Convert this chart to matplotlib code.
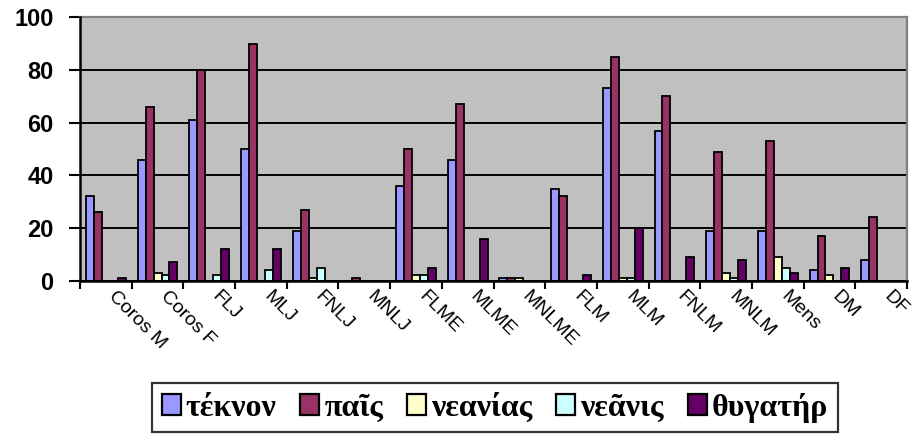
import numpy as np
import matplotlib
matplotlib.use("Agg")
import matplotlib.pyplot as plt
from matplotlib.ticker import FixedLocator, NullFormatter

categories = ["Coros M", "Coros F", "FLJ", "MLJ", "FNLJ", "MNLJ", "FLME", "MLME",
              "MNLME", "FLM", "MLM", "FNLM", "MNLM", "Mens", "DM", "DF"]
series_names = ["τέκνον", "παῖς", "νεανίας", "νεᾶνις", "θυγατήρ"]
teknon   = [32, 46, 61, 50, 19, 0, 36, 46, 1, 35, 73, 57, 19, 19, 4, 8]
pais     = [26, 66, 80, 90, 27, 1, 50, 67, 1, 32, 85, 70, 49, 53, 17, 24]
neanias  = [0, 3, 0, 0, 1, 0, 2, 0, 1, 0, 1, 0, 3, 9, 2, 0]
neanis   = [0, 2, 2, 4, 5, 0, 2, 0, 0, 0, 1, 0, 1, 5, 0, 0]
thygater = [1, 7, 12, 12, 0, 0, 5, 16, 0, 2, 20, 9, 8, 3, 5, 0]
y_ticks = [0, 20, 40, 60, 80, 100]

colors = ["#9999FF", "#993366", "#FFFFCC", "#CCFFFF", "#660066"]
series = [teknon, pais, neanias, neanis, thygater]

W, H = 919, 434
fig = plt.figure(figsize=(W / 100, H / 100), dpi=100)
ax = fig.add_axes([80 / W, 1 - 280.7 / H, (907 - 80) / W, (280.7 - 17.3) / H])
ax.set_facecolor("#C0C0C0")

n = len(categories)
nser = len(series)
gap = 1.5  # gap width relative to one bar
bw = 1.0 / (nser + gap)
x = np.arange(n)
handles = []
for i, (vals, col) in enumerate(zip(series, colors)):
    pos = x + bw * gap / 2 + bw * (i + 0.5)
    b = ax.bar(pos, vals, width=bw, color=col, edgecolor="black", linewidth=1.3,
               zorder=3, label=series_names[i])
    handles.append(b)

ax.set_xlim(0, n)
ax.set_ylim(0, 100)
ax.set_yticks(y_ticks)
ax.set_yticklabels([str(v) for v in y_ticks], fontsize=17, fontweight="bold",
                   family="Liberation Sans")
ax.yaxis.grid(True, color="black", linewidth=1.4, zorder=1)
ax.set_axisbelow(True)

# category boundaries carry tick marks; the slanted labels start just right of each centre
ax.xaxis.set_major_locator(FixedLocator(np.arange(n + 1)))
ax.xaxis.set_major_formatter(NullFormatter())
ax.xaxis.set_minor_locator(FixedLocator(x + 0.5 + 0.22))
ax.set_xticklabels(categories, minor=True, rotation=-45, ha="left", va="top",
                   rotation_mode="anchor", fontsize=14, family="Liberation Sans")
ax.tick_params(axis="x", which="minor", length=0, pad=5)
ax.tick_params(axis="x", which="major", length=6, width=1.5, direction="out")
ax.tick_params(axis="y", which="major", length=8, width=1.5, direction="out", pad=11)

for side in ("top", "right"):
    ax.spines[side].set_color("#808080")
    ax.spines[side].set_linewidth(1.6)
for side in ("left", "bottom"):
    ax.spines[side].set_color("black")
    ax.spines[side].set_linewidth(1.8)
    ax.spines[side].set_zorder(4)

leg = fig.legend(handles=handles, labels=series_names, loc="upper left",
                 bbox_to_anchor=(152 / W, 1 - 383 / H), ncol=5,
                 prop={"family": ["Liberation Serif", "DejaVu Serif"], "size": 23,
                       "weight": "bold"},
                 frameon=True, fancybox=False, edgecolor="black", facecolor="white",
                 handlelength=0.6, handleheight=0.6, handletextpad=0.15,
                 columnspacing=0.75, borderpad=0.3, borderaxespad=0)
leg.get_frame().set_linewidth(1.6)
for h in leg.legend_handles:
    h.set_linewidth(1.6)

fig.savefig("out.png", dpi=100)
